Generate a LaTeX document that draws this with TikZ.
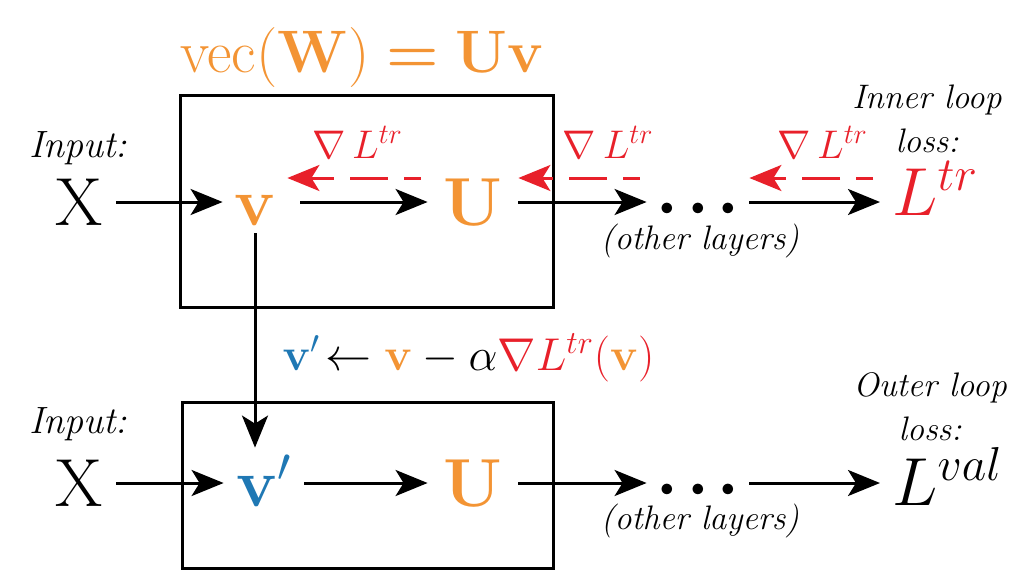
\RequirePackage{fix-cm}
\documentclass[tikz,border=0pt]{standalone}
\usepackage{amsmath}
\usepackage{tikz}
\usetikzlibrary{arrows.meta,positioning}
\usepackage{xcolor}
\definecolor{corange}{HTML}{F39434}
\definecolor{cred}{HTML}{E8202A}
\definecolor{cblue}{HTML}{1F78B4}
\newcommand{\layerdots}{$\boldsymbol{{\cdot}\mkern2mu{\cdot}\mkern2mu{\cdot}}$}

\begin{document}
\begin{tikzpicture}[x=0.5pt, y=-0.5pt,
  big/.style={inner sep=0pt, text height=23pt, text depth=0pt,
              font=\fontsize{34}{40}\selectfont},
  loss/.style={anchor=base west, inner sep=0pt, inner xsep=6pt,
               font=\fontsize{34}{40}\selectfont},
  side/.style={inner sep=0pt, align=center,
               font=\fontsize{17}{22}\selectfont\itshape},
  arr/.style={line width=1.5pt, -{Stealth[length=16pt, width=13pt, inset=4pt]}},
  grad/.style={arr, color=cred, dash pattern=on 19pt off 8pt,
               dash phase=10.5pt, shorten <=3.5pt},
  gradlbl/.style={above=9pt, inner sep=0pt, text=cred,
                  font=\fontsize{20}{24}\selectfont},
  layer/.style={line width=1.5pt}]
  \useasboundingbox (0,0) rectangle (1030,580);

  % layer boxes
  \draw[layer] (180,95) rectangle (553,307);
  \draw[layer] (182,402) rectangle (553,568);
  \node[inner sep=0pt, text=corange, anchor=base,
        font=\fontsize{30}{35}\selectfont] (title) at (362,72)
    {$\mathrm{vec}(\mathbf{W})\mathrel{\boldsymbol{=}}\mathbf{U}\mathbf{v}$};

  % inner loop
  \node[side, anchor=base, font=\fontsize{19}{22}\selectfont\itshape] (in1) at (78,157) {Input:};
  \node[big, minimum width=37pt] (X1) at (79,202) {X};
  \node[big, text=corange, minimum width=32pt, minimum height=31pt] (v1) at (255,202) {$\mathbf{v}$};
  \node[big, text=corange, minimum width=45pt] (U1) at (473,202) {$\mathbf{U}$};
  \node[big, minimum width=51pt] (d1) at (698,202) {\layerdots};
  \node[loss, text=cred] (L1) at (880,215) {$L^{tr}$};
  \node[side] (oth1) at (700,241) {(other layers)};
  \node[side] (inner) at (927,119) {Inner loop\\loss:};

  \draw[arr] (X1) -- (v1);
  \draw[arr, shorten <=6.5pt] (v1) -- (U1);
  \draw[arr] (U1) -- (d1);
  \draw[arr] (d1) -- (d1.east -| L1.west);

  \draw[grad] ([yshift=12pt]U1.west) -- ([yshift=12pt]v1.east)
    node[gradlbl, pos=0.5] {$\nabla\,L^{tr}$};
  \draw[grad] ([yshift=12pt]d1.west) -- ([yshift=12pt]U1.east)
    node[gradlbl, pos=0.3] {$\nabla\,L^{tr}$};
  \draw[grad] ([yshift=12pt]d1.east -| L1.west) -- ([yshift=12pt]d1.east)
    node[gradlbl, pos=0.44] {$\nabla\,L^{tr}$};

  % outer loop
  \node[side, anchor=base, font=\fontsize{19}{22}\selectfont\itshape] (in2) at (78,433) {Input:};
  \node[big, minimum width=37pt] (X2) at (79,483) {X};
  \node[big, text=cblue, minimum width=40pt, minimum height=35pt] (v2) at (264,483) {$\mathbf{v}'$};
  \node[big, text=corange, minimum width=45pt] (U2) at (473,483) {$\mathbf{U}$};
  \node[big, minimum width=51pt] (d2) at (698,483) {\layerdots};
  \node[loss] (L2) at (880,505) {$L^{val}$};
  \node[side] (oth2) at (700,521) {(other layers)};
  \node[side] (outer) at (930,407) {Outer loop\\loss:};

  \draw[arr] (X2) -- (v2);
  \draw[arr] (v2) -- (U2);
  \draw[arr] (U2) -- (d2);
  \draw[arr] (d2) -- (d2.east -| L2.west);

  % inner update
  \draw[arr] (v1.south) -- (v1.south |- v2.north)
    node[pos=0.58, right=13pt, inner sep=0pt, font=\fontsize{23}{27}\selectfont]
    {$\textcolor{cblue}{\mathbf{v}'}\!\leftarrow \textcolor{corange}{\mathbf{v}} - \alpha\textcolor{cred}{\nabla L^{tr}(}\textcolor{corange}{\mathbf{v}}\textcolor{cred}{)}$};
\end{tikzpicture}
\end{document}
